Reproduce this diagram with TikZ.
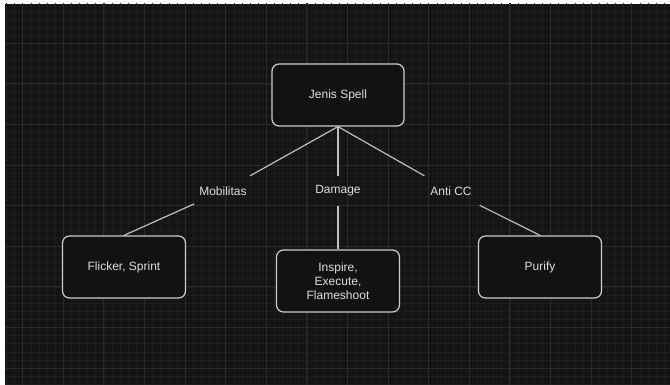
\documentclass[tikz,border=0pt]{standalone}
\usepackage{fontspec}
\setmainfont{Liberation Sans}
\usepackage{tikz}
\usetikzlibrary{positioning}

\definecolor{bgdark}{RGB}{20,20,20}
\definecolor{boxfill}{RGB}{18,18,18}
\definecolor{gridminor}{RGB}{29,29,29}
\definecolor{gridmajor}{RGB}{43,43,43}
\definecolor{boxline}{RGB}{205,205,205}
\definecolor{edgeline}{RGB}{190,190,190}
\definecolor{txt}{RGB}{222,222,222}

\begin{document}
\begin{tikzpicture}[x=1pt,y=1pt,on grid,
	box/.style={rectangle, rounded corners=7pt, draw=boxline, fill=boxfill, line width=1.2pt,
		minimum width=123pt, minimum height=62pt, align=center, text=txt,
		font=\fontsize{12}{14}\selectfont},
	lbl/.style={rectangle, minimum width=57pt, minimum height=30pt, inner sep=0pt, text=txt,
		font=\fontsize{12}{14}\selectfont},
	edge/.style={draw=edgeline, line width=1.2pt}]
	\useasboundingbox (0,0) rectangle (670,385);
	\fill[white] (0,0) rectangle (670,385);
	\fill[bgdark] (5,0) rectangle (670,381);
	\begin{scope}
		\clip (5,0) rectangle (670,381);
		\draw[gridminor, line width=0.6pt, shift={(22.7,341.7)}, step=8.12pt] (-40.6,-365.4) grid (690,60);
		\draw[gridmajor, line width=0.9pt, shift={(22.7,341.7)}, step=40.6pt] (-40.6,-365.4) grid (690,60);
	\end{scope}

	\node[box, minimum width=132pt] (jenis) at (338,290) {Jenis Spell};
	\node[lbl] (dmg) [below=96pt of jenis] {Damage};
	\node[lbl] (mob) [left=115pt of dmg] {Mobilitas};
	\node[lbl] (anti) [right=113pt of dmg] {Anti CC};
	\node[box] (flicker) [below left=76pt and 99pt of mob] {Flicker, Sprint};
	\node[box] (inspire) [below=90pt of dmg] {Inspire,\\Execute,\\Flameshoot};
	\node[box] (purify) [below right=76pt and 89pt of anti] {Purify};

	\draw[edge] (jenis.south) -- (mob);
	\draw[edge] (jenis.south) -- (dmg);
	\draw[edge] (jenis.south) -- (anti);
	\draw[edge] (mob) -- (flicker.north);
	\draw[edge] (dmg) -- (inspire);
	\draw[edge] (anti) -- (purify.north);
\end{tikzpicture}
\end{document}
